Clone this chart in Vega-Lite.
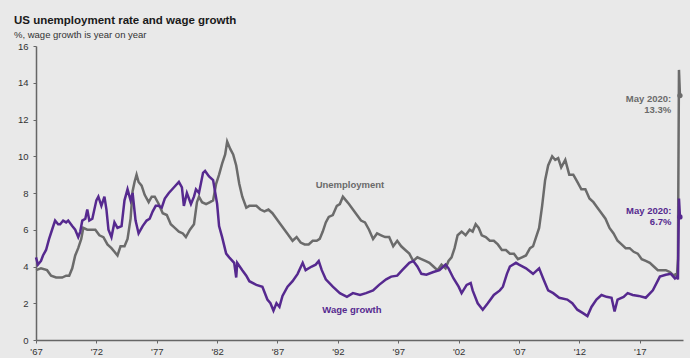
{
  "$schema": "https://vega.github.io/schema/vega-lite/v6.json",
  "width": 647,
  "height": 294,
  "autosize": {"type": "none"},
  "padding": {"left": 36, "top": 46, "right": 7, "bottom": 18},
  "background": "#e9e9e9",
  "title": {
    "text": "US unemployment rate and wage growth",
    "subtitle": "%, wage growth is year on year",
    "anchor": "start",
    "frame": "group",
    "dx": -22,
    "offset": 2,
    "font": "Liberation Sans",
    "fontSize": 11.5,
    "fontWeight": "bold",
    "color": "#1a1a1a",
    "subtitleFont": "Liberation Sans",
    "subtitleFontSize": 9.5,
    "subtitleColor": "#333333",
    "subtitlePadding": 3
  },
  "config": {
    "view": {"stroke": null},
    "axis": {
      "grid": false,
      "domainColor": "#666666",
      "domainWidth": 1.5,
      "tickColor": "#666666",
      "tickSize": 3,
      "labelFont": "Liberation Sans",
      "labelFontSize": 9.5,
      "labelColor": "#333333",
      "title": null
    }
  },
  "datasets": {
    "main": [
      {"d":"1967-01-01","s":"Unemployment","v":3.8},{"d":"1967-06-01","s":"Unemployment","v":3.9},{"d":"1967-12-01","s":"Unemployment","v":3.8},{"d":"1968-04-01","s":"Unemployment","v":3.5},{"d":"1968-09-01","s":"Unemployment","v":3.4},{"d":"1969-03-01","s":"Unemployment","v":3.4},{"d":"1969-07-01","s":"Unemployment","v":3.5},{"d":"1969-10-01","s":"Unemployment","v":3.5},{"d":"1970-01-01","s":"Unemployment","v":3.9},{"d":"1970-04-01","s":"Unemployment","v":4.6},{"d":"1970-07-01","s":"Unemployment","v":5.0},{"d":"1970-10-01","s":"Unemployment","v":5.5},{"d":"1970-12-01","s":"Unemployment","v":6.1},{"d":"1971-04-01","s":"Unemployment","v":6.0},{"d":"1971-08-01","s":"Unemployment","v":6.0},{"d":"1971-12-01","s":"Unemployment","v":6.0},{"d":"1972-04-01","s":"Unemployment","v":5.7},{"d":"1972-08-01","s":"Unemployment","v":5.6},{"d":"1972-12-01","s":"Unemployment","v":5.2},{"d":"1973-04-01","s":"Unemployment","v":5.0},{"d":"1973-07-01","s":"Unemployment","v":4.8},{"d":"1973-10-01","s":"Unemployment","v":4.6},{"d":"1974-01-01","s":"Unemployment","v":5.1},{"d":"1974-05-01","s":"Unemployment","v":5.1},{"d":"1974-08-01","s":"Unemployment","v":5.5},{"d":"1974-11-01","s":"Unemployment","v":6.6},{"d":"1975-01-01","s":"Unemployment","v":8.1},{"d":"1975-03-01","s":"Unemployment","v":8.6},{"d":"1975-05-01","s":"Unemployment","v":9.0},{"d":"1975-07-01","s":"Unemployment","v":8.6},{"d":"1975-10-01","s":"Unemployment","v":8.4},{"d":"1976-01-01","s":"Unemployment","v":7.9},{"d":"1976-05-01","s":"Unemployment","v":7.5},{"d":"1976-08-01","s":"Unemployment","v":7.8},{"d":"1976-11-01","s":"Unemployment","v":7.8},{"d":"1977-03-01","s":"Unemployment","v":7.4},{"d":"1977-07-01","s":"Unemployment","v":6.9},{"d":"1977-11-01","s":"Unemployment","v":6.8},{"d":"1978-03-01","s":"Unemployment","v":6.3},{"d":"1978-07-01","s":"Unemployment","v":6.1},{"d":"1978-11-01","s":"Unemployment","v":5.9},{"d":"1979-03-01","s":"Unemployment","v":5.8},{"d":"1979-06-01","s":"Unemployment","v":5.6},{"d":"1979-10-01","s":"Unemployment","v":6.0},{"d":"1980-02-01","s":"Unemployment","v":6.3},{"d":"1980-05-01","s":"Unemployment","v":7.5},{"d":"1980-07-01","s":"Unemployment","v":7.8},{"d":"1980-10-01","s":"Unemployment","v":7.5},{"d":"1981-02-01","s":"Unemployment","v":7.4},{"d":"1981-06-01","s":"Unemployment","v":7.5},{"d":"1981-09-01","s":"Unemployment","v":7.6},{"d":"1981-12-01","s":"Unemployment","v":8.5},{"d":"1982-03-01","s":"Unemployment","v":9.0},{"d":"1982-06-01","s":"Unemployment","v":9.6},{"d":"1982-09-01","s":"Unemployment","v":10.1},{"d":"1982-11-01","s":"Unemployment","v":10.8},{"d":"1983-02-01","s":"Unemployment","v":10.4},{"d":"1983-05-01","s":"Unemployment","v":10.1},{"d":"1983-08-01","s":"Unemployment","v":9.5},{"d":"1983-11-01","s":"Unemployment","v":8.5},{"d":"1984-02-01","s":"Unemployment","v":7.8},{"d":"1984-06-01","s":"Unemployment","v":7.2},{"d":"1984-09-01","s":"Unemployment","v":7.3},{"d":"1984-12-01","s":"Unemployment","v":7.3},{"d":"1985-04-01","s":"Unemployment","v":7.3},{"d":"1985-08-01","s":"Unemployment","v":7.1},{"d":"1985-12-01","s":"Unemployment","v":7.0},{"d":"1986-04-01","s":"Unemployment","v":7.1},{"d":"1986-08-01","s":"Unemployment","v":6.9},{"d":"1986-12-01","s":"Unemployment","v":6.6},{"d":"1987-04-01","s":"Unemployment","v":6.3},{"d":"1987-08-01","s":"Unemployment","v":6.0},{"d":"1987-12-01","s":"Unemployment","v":5.7},{"d":"1988-04-01","s":"Unemployment","v":5.4},{"d":"1988-08-01","s":"Unemployment","v":5.6},{"d":"1988-12-01","s":"Unemployment","v":5.3},{"d":"1989-04-01","s":"Unemployment","v":5.2},{"d":"1989-08-01","s":"Unemployment","v":5.2},{"d":"1989-12-01","s":"Unemployment","v":5.4},{"d":"1990-04-01","s":"Unemployment","v":5.4},{"d":"1990-07-01","s":"Unemployment","v":5.5},{"d":"1990-10-01","s":"Unemployment","v":5.9},{"d":"1991-01-01","s":"Unemployment","v":6.4},{"d":"1991-04-01","s":"Unemployment","v":6.7},{"d":"1991-08-01","s":"Unemployment","v":6.8},{"d":"1991-12-01","s":"Unemployment","v":7.3},{"d":"1992-03-01","s":"Unemployment","v":7.4},{"d":"1992-06-01","s":"Unemployment","v":7.8},{"d":"1992-09-01","s":"Unemployment","v":7.6},{"d":"1992-12-01","s":"Unemployment","v":7.4},{"d":"1993-04-01","s":"Unemployment","v":7.1},{"d":"1993-08-01","s":"Unemployment","v":6.8},{"d":"1993-12-01","s":"Unemployment","v":6.5},{"d":"1994-04-01","s":"Unemployment","v":6.4},{"d":"1994-08-01","s":"Unemployment","v":6.0},{"d":"1994-12-01","s":"Unemployment","v":5.5},{"d":"1995-04-01","s":"Unemployment","v":5.8},{"d":"1995-08-01","s":"Unemployment","v":5.7},{"d":"1995-12-01","s":"Unemployment","v":5.6},{"d":"1996-04-01","s":"Unemployment","v":5.6},{"d":"1996-08-01","s":"Unemployment","v":5.1},{"d":"1996-12-01","s":"Unemployment","v":5.4},{"d":"1997-04-01","s":"Unemployment","v":5.1},{"d":"1997-08-01","s":"Unemployment","v":4.9},{"d":"1997-12-01","s":"Unemployment","v":4.7},{"d":"1998-04-01","s":"Unemployment","v":4.3},{"d":"1998-08-01","s":"Unemployment","v":4.5},{"d":"1998-12-01","s":"Unemployment","v":4.4},{"d":"1999-04-01","s":"Unemployment","v":4.3},{"d":"1999-08-01","s":"Unemployment","v":4.2},{"d":"1999-12-01","s":"Unemployment","v":4.0},{"d":"2000-04-01","s":"Unemployment","v":3.8},{"d":"2000-08-01","s":"Unemployment","v":4.1},{"d":"2000-12-01","s":"Unemployment","v":3.9},{"d":"2001-03-01","s":"Unemployment","v":4.3},{"d":"2001-06-01","s":"Unemployment","v":4.5},{"d":"2001-09-01","s":"Unemployment","v":5.0},{"d":"2001-12-01","s":"Unemployment","v":5.7},{"d":"2002-04-01","s":"Unemployment","v":5.9},{"d":"2002-08-01","s":"Unemployment","v":5.7},{"d":"2002-12-01","s":"Unemployment","v":6.0},{"d":"2003-03-01","s":"Unemployment","v":5.9},{"d":"2003-06-01","s":"Unemployment","v":6.3},{"d":"2003-09-01","s":"Unemployment","v":6.1},{"d":"2003-12-01","s":"Unemployment","v":5.7},{"d":"2004-04-01","s":"Unemployment","v":5.6},{"d":"2004-08-01","s":"Unemployment","v":5.4},{"d":"2004-12-01","s":"Unemployment","v":5.4},{"d":"2005-04-01","s":"Unemployment","v":5.2},{"d":"2005-08-01","s":"Unemployment","v":4.9},{"d":"2005-12-01","s":"Unemployment","v":4.9},{"d":"2006-04-01","s":"Unemployment","v":4.7},{"d":"2006-08-01","s":"Unemployment","v":4.7},{"d":"2006-12-01","s":"Unemployment","v":4.4},{"d":"2007-04-01","s":"Unemployment","v":4.5},{"d":"2007-08-01","s":"Unemployment","v":4.6},{"d":"2007-12-01","s":"Unemployment","v":5.0},{"d":"2008-03-01","s":"Unemployment","v":5.1},{"d":"2008-06-01","s":"Unemployment","v":5.6},{"d":"2008-09-01","s":"Unemployment","v":6.1},{"d":"2008-12-01","s":"Unemployment","v":7.3},{"d":"2009-03-01","s":"Unemployment","v":8.7},{"d":"2009-06-01","s":"Unemployment","v":9.5},{"d":"2009-10-01","s":"Unemployment","v":10.0},{"d":"2010-01-01","s":"Unemployment","v":9.8},{"d":"2010-04-01","s":"Unemployment","v":9.9},{"d":"2010-07-01","s":"Unemployment","v":9.4},{"d":"2010-11-01","s":"Unemployment","v":9.8},{"d":"2011-03-01","s":"Unemployment","v":9.0},{"d":"2011-07-01","s":"Unemployment","v":9.0},{"d":"2011-11-01","s":"Unemployment","v":8.6},{"d":"2012-03-01","s":"Unemployment","v":8.2},{"d":"2012-07-01","s":"Unemployment","v":8.2},{"d":"2012-11-01","s":"Unemployment","v":7.7},{"d":"2013-03-01","s":"Unemployment","v":7.5},{"d":"2013-07-01","s":"Unemployment","v":7.2},{"d":"2013-11-01","s":"Unemployment","v":6.9},{"d":"2014-03-01","s":"Unemployment","v":6.6},{"d":"2014-07-01","s":"Unemployment","v":6.1},{"d":"2014-11-01","s":"Unemployment","v":5.8},{"d":"2015-03-01","s":"Unemployment","v":5.4},{"d":"2015-07-01","s":"Unemployment","v":5.2},{"d":"2015-11-01","s":"Unemployment","v":5.0},{"d":"2016-03-01","s":"Unemployment","v":5.0},{"d":"2016-07-01","s":"Unemployment","v":4.8},{"d":"2016-11-01","s":"Unemployment","v":4.7},{"d":"2017-03-01","s":"Unemployment","v":4.4},{"d":"2017-07-01","s":"Unemployment","v":4.3},{"d":"2017-11-01","s":"Unemployment","v":4.2},{"d":"2018-03-01","s":"Unemployment","v":4.0},{"d":"2018-07-01","s":"Unemployment","v":3.8},{"d":"2018-11-01","s":"Unemployment","v":3.8},{"d":"2019-03-01","s":"Unemployment","v":3.8},{"d":"2019-07-01","s":"Unemployment","v":3.7},{"d":"2019-11-01","s":"Unemployment","v":3.5},{"d":"2020-01-01","s":"Unemployment","v":3.6},{"d":"2020-02-01","s":"Unemployment","v":3.5},{"d":"2020-03-01","s":"Unemployment","v":4.4},{"d":"2020-04-01","s":"Unemployment","v":14.7},{"d":"2020-05-01","s":"Unemployment","v":13.3},
      {"d":"1967-01-01","s":"Wage growth","v":4.5},{"d":"1967-03-01","s":"Wage growth","v":4.1},{"d":"1967-06-01","s":"Wage growth","v":4.3},{"d":"1967-08-01","s":"Wage growth","v":4.6},{"d":"1967-11-01","s":"Wage growth","v":4.9},{"d":"1968-02-01","s":"Wage growth","v":5.5},{"d":"1968-05-01","s":"Wage growth","v":6.0},{"d":"1968-08-01","s":"Wage growth","v":6.5},{"d":"1968-11-01","s":"Wage growth","v":6.3},{"d":"1969-01-01","s":"Wage growth","v":6.3},{"d":"1969-04-01","s":"Wage growth","v":6.5},{"d":"1969-07-01","s":"Wage growth","v":6.4},{"d":"1969-09-01","s":"Wage growth","v":6.5},{"d":"1970-01-01","s":"Wage growth","v":6.2},{"d":"1970-04-01","s":"Wage growth","v":6.0},{"d":"1970-07-01","s":"Wage growth","v":5.6},{"d":"1970-09-01","s":"Wage growth","v":5.9},{"d":"1970-11-01","s":"Wage growth","v":6.5},{"d":"1971-02-01","s":"Wage growth","v":6.6},{"d":"1971-04-01","s":"Wage growth","v":7.1},{"d":"1971-06-01","s":"Wage growth","v":6.5},{"d":"1971-09-01","s":"Wage growth","v":6.6},{"d":"1972-01-01","s":"Wage growth","v":7.6},{"d":"1972-03-01","s":"Wage growth","v":7.8},{"d":"1972-06-01","s":"Wage growth","v":7.3},{"d":"1972-09-01","s":"Wage growth","v":7.8},{"d":"1972-11-01","s":"Wage growth","v":7.1},{"d":"1973-01-01","s":"Wage growth","v":6.0},{"d":"1973-04-01","s":"Wage growth","v":5.6},{"d":"1973-07-01","s":"Wage growth","v":6.4},{"d":"1973-10-01","s":"Wage growth","v":6.1},{"d":"1974-02-01","s":"Wage growth","v":6.2},{"d":"1974-05-01","s":"Wage growth","v":7.6},{"d":"1974-08-01","s":"Wage growth","v":8.2},{"d":"1974-11-01","s":"Wage growth","v":7.6},{"d":"1975-01-01","s":"Wage growth","v":8.0},{"d":"1975-04-01","s":"Wage growth","v":6.5},{"d":"1975-07-01","s":"Wage growth","v":5.8},{"d":"1975-11-01","s":"Wage growth","v":6.2},{"d":"1976-03-01","s":"Wage growth","v":6.5},{"d":"1976-06-01","s":"Wage growth","v":6.6},{"d":"1976-09-01","s":"Wage growth","v":7.0},{"d":"1976-12-01","s":"Wage growth","v":7.3},{"d":"1977-03-01","s":"Wage growth","v":7.3},{"d":"1977-06-01","s":"Wage growth","v":7.2},{"d":"1977-09-01","s":"Wage growth","v":7.7},{"d":"1978-01-01","s":"Wage growth","v":8.0},{"d":"1978-06-01","s":"Wage growth","v":8.3},{"d":"1978-11-01","s":"Wage growth","v":8.6},{"d":"1979-02-01","s":"Wage growth","v":8.3},{"d":"1979-04-01","s":"Wage growth","v":7.3},{"d":"1979-07-01","s":"Wage growth","v":8.0},{"d":"1979-11-01","s":"Wage growth","v":7.4},{"d":"1980-02-01","s":"Wage growth","v":7.8},{"d":"1980-04-01","s":"Wage growth","v":8.2},{"d":"1980-07-01","s":"Wage growth","v":8.0},{"d":"1980-11-01","s":"Wage growth","v":9.1},{"d":"1981-01-01","s":"Wage growth","v":9.2},{"d":"1981-05-01","s":"Wage growth","v":8.9},{"d":"1981-09-01","s":"Wage growth","v":8.7},{"d":"1982-01-01","s":"Wage growth","v":7.4},{"d":"1982-03-01","s":"Wage growth","v":6.2},{"d":"1982-06-01","s":"Wage growth","v":5.6},{"d":"1982-10-01","s":"Wage growth","v":4.7},{"d":"1983-01-01","s":"Wage growth","v":4.5},{"d":"1983-06-01","s":"Wage growth","v":4.2},{"d":"1983-08-01","s":"Wage growth","v":3.4},{"d":"1983-09-01","s":"Wage growth","v":4.2},{"d":"1984-02-01","s":"Wage growth","v":3.8},{"d":"1984-06-01","s":"Wage growth","v":3.5},{"d":"1984-09-01","s":"Wage growth","v":3.2},{"d":"1985-04-01","s":"Wage growth","v":3.0},{"d":"1985-10-01","s":"Wage growth","v":2.9},{"d":"1986-03-01","s":"Wage growth","v":2.2},{"d":"1986-06-01","s":"Wage growth","v":2.0},{"d":"1986-09-01","s":"Wage growth","v":1.6},{"d":"1986-12-01","s":"Wage growth","v":2.0},{"d":"1987-03-01","s":"Wage growth","v":1.8},{"d":"1987-06-01","s":"Wage growth","v":2.4},{"d":"1987-11-01","s":"Wage growth","v":2.9},{"d":"1988-04-01","s":"Wage growth","v":3.2},{"d":"1988-09-01","s":"Wage growth","v":3.6},{"d":"1989-02-01","s":"Wage growth","v":4.2},{"d":"1989-05-01","s":"Wage growth","v":3.8},{"d":"1989-11-01","s":"Wage growth","v":4.0},{"d":"1990-03-01","s":"Wage growth","v":4.1},{"d":"1990-06-01","s":"Wage growth","v":4.3},{"d":"1990-09-01","s":"Wage growth","v":3.8},{"d":"1991-01-01","s":"Wage growth","v":3.3},{"d":"1991-08-01","s":"Wage growth","v":2.9},{"d":"1992-03-01","s":"Wage growth","v":2.55},{"d":"1992-10-01","s":"Wage growth","v":2.35},{"d":"1993-04-01","s":"Wage growth","v":2.55},{"d":"1993-11-01","s":"Wage growth","v":2.45},{"d":"1994-05-01","s":"Wage growth","v":2.55},{"d":"1994-12-01","s":"Wage growth","v":2.7},{"d":"1995-06-01","s":"Wage growth","v":3.0},{"d":"1996-01-01","s":"Wage growth","v":3.3},{"d":"1996-06-01","s":"Wage growth","v":3.45},{"d":"1996-12-01","s":"Wage growth","v":3.5},{"d":"1997-05-01","s":"Wage growth","v":3.8},{"d":"1997-12-01","s":"Wage growth","v":4.2},{"d":"1998-04-01","s":"Wage growth","v":4.3},{"d":"1998-08-01","s":"Wage growth","v":4.0},{"d":"1998-12-01","s":"Wage growth","v":3.6},{"d":"1999-05-01","s":"Wage growth","v":3.55},{"d":"1999-12-01","s":"Wage growth","v":3.7},{"d":"2000-06-01","s":"Wage growth","v":3.8},{"d":"2000-12-01","s":"Wage growth","v":4.1},{"d":"2001-03-01","s":"Wage growth","v":3.9},{"d":"2001-08-01","s":"Wage growth","v":3.35},{"d":"2002-01-01","s":"Wage growth","v":2.9},{"d":"2002-04-01","s":"Wage growth","v":2.55},{"d":"2002-09-01","s":"Wage growth","v":3.0},{"d":"2003-01-01","s":"Wage growth","v":3.1},{"d":"2003-03-01","s":"Wage growth","v":2.7},{"d":"2003-08-01","s":"Wage growth","v":2.0},{"d":"2004-01-01","s":"Wage growth","v":1.65},{"d":"2004-06-01","s":"Wage growth","v":2.0},{"d":"2004-12-01","s":"Wage growth","v":2.45},{"d":"2005-06-01","s":"Wage growth","v":2.7},{"d":"2005-09-01","s":"Wage growth","v":2.9},{"d":"2006-01-01","s":"Wage growth","v":3.6},{"d":"2006-04-01","s":"Wage growth","v":4.0},{"d":"2006-10-01","s":"Wage growth","v":4.2},{"d":"2007-01-01","s":"Wage growth","v":4.1},{"d":"2007-08-01","s":"Wage growth","v":3.9},{"d":"2008-03-01","s":"Wage growth","v":3.6},{"d":"2008-09-01","s":"Wage growth","v":3.9},{"d":"2009-01-01","s":"Wage growth","v":3.35},{"d":"2009-06-01","s":"Wage growth","v":2.7},{"d":"2009-11-01","s":"Wage growth","v":2.55},{"d":"2010-05-01","s":"Wage growth","v":2.3},{"d":"2011-01-01","s":"Wage growth","v":2.2},{"d":"2011-06-01","s":"Wage growth","v":2.0},{"d":"2011-11-01","s":"Wage growth","v":1.65},{"d":"2012-05-01","s":"Wage growth","v":1.45},{"d":"2012-09-01","s":"Wage growth","v":1.3},{"d":"2013-01-01","s":"Wage growth","v":1.8},{"d":"2013-06-01","s":"Wage growth","v":2.2},{"d":"2013-11-01","s":"Wage growth","v":2.45},{"d":"2014-04-01","s":"Wage growth","v":2.35},{"d":"2014-09-01","s":"Wage growth","v":2.3},{"d":"2014-12-01","s":"Wage growth","v":1.55},{"d":"2015-03-01","s":"Wage growth","v":2.2},{"d":"2015-09-01","s":"Wage growth","v":2.35},{"d":"2016-01-01","s":"Wage growth","v":2.55},{"d":"2016-06-01","s":"Wage growth","v":2.45},{"d":"2016-12-01","s":"Wage growth","v":2.4},{"d":"2017-07-01","s":"Wage growth","v":2.3},{"d":"2018-02-01","s":"Wage growth","v":2.7},{"d":"2018-09-01","s":"Wage growth","v":3.45},{"d":"2019-03-01","s":"Wage growth","v":3.55},{"d":"2019-08-01","s":"Wage growth","v":3.6},{"d":"2019-12-01","s":"Wage growth","v":3.35},{"d":"2020-02-01","s":"Wage growth","v":3.45},{"d":"2020-03-01","s":"Wage growth","v":3.3},{"d":"2020-04-01","s":"Wage growth","v":7.7},{"d":"2020-05-01","s":"Wage growth","v":6.7}
    ],
    "dots": [
      {"d":"2020-05-01","s":"Unemployment","v":13.3},
      {"d":"2020-05-01","s":"Wage growth","v":6.7}
    ],
    "labels": [
      {"d":"1993-01-01","s":"Unemployment","v":8.43,"t":"Unemployment"},
      {"d":"1993-03-01","s":"Wage growth","v":1.63,"t":"Wage growth"}
    ],
    "notes": [
      {"d":"2019-08-10","s":"Unemployment","v":13.1,"t":"May 2020:\n13.3%"},
      {"d":"2019-08-20","s":"Wage growth","v":7.0,"t":"May 2020:\n6.7%"}
    ]
  },
  "encoding": {
    "x": {
      "field": "d",
      "type": "temporal",
      "scale": {"type": "utc", "domain": [{"year": 1967, "month": 1, "date": 1, "utc": true}, {"year": 2020, "month": 8, "date": 1, "utc": true}]},
      "axis": {
        "values": [
          {"year": 1967, "month": 1, "date": 1, "utc": true},
          {"year": 1972, "month": 1, "date": 1, "utc": true},
          {"year": 1977, "month": 1, "date": 1, "utc": true},
          {"year": 1982, "month": 1, "date": 1, "utc": true},
          {"year": 1987, "month": 1, "date": 1, "utc": true},
          {"year": 1992, "month": 1, "date": 1, "utc": true},
          {"year": 1997, "month": 1, "date": 1, "utc": true},
          {"year": 2002, "month": 1, "date": 1, "utc": true},
          {"year": 2007, "month": 1, "date": 1, "utc": true},
          {"year": 2012, "month": 1, "date": 1, "utc": true},
          {"year": 2017, "month": 1, "date": 1, "utc": true}
        ],
        "labelExpr": "\"'\" + utcFormat(datum.value, '%y')",
        "labelPadding": 3,
        "labelFlush": false
      }
    },
    "y": {
      "field": "v",
      "type": "quantitative",
      "scale": {"domain": [0, 16], "nice": false},
      "axis": {"values": [0, 2, 4, 6, 8, 10, 12, 14, 16], "labelPadding": 5}
    },
    "color": {
      "field": "s",
      "type": "nominal",
      "scale": {"domain": ["Unemployment", "Wage growth"], "range": ["#6b6b6b", "#56298f"]},
      "legend": null
    }
  },
  "layer": [
    {
      "data": {"name": "main"},
      "transform": [{"filter": "datum.s === 'Unemployment'"}],
      "mark": {"type": "line", "strokeWidth": 2.5, "interpolate": "linear"}
    },
    {
      "data": {"name": "main"},
      "transform": [{"filter": "datum.s === 'Wage growth'"}],
      "mark": {"type": "line", "strokeWidth": 2.5, "interpolate": "linear"}
    },
    {
      "data": {"name": "dots"},
      "mark": {"type": "point", "filled": true, "size": 28, "opacity": 1}
    },
    {
      "data": {"name": "labels"},
      "mark": {"type": "text", "font": "Liberation Sans", "fontWeight": "bold", "fontSize": 9.5, "align": "center", "baseline": "middle"},
      "encoding": {
        "text": {"field": "t"},
        "color": {"field": "s", "type": "nominal", "scale": {"domain": ["Unemployment", "Wage growth"], "range": ["#7c7c7c", "#5e3193"]}, "legend": null}
      }
    },
    {
      "data": {"name": "notes"},
      "mark": {"type": "text", "font": "Liberation Sans", "fontWeight": "bold", "fontSize": 9.5, "align": "right", "baseline": "middle", "lineBreak": "\n", "lineHeight": 11},
      "encoding": {
        "text": {"field": "t"},
        "color": {"field": "s", "type": "nominal", "scale": {"domain": ["Unemployment", "Wage growth"], "range": ["#7c7c7c", "#5e3193"]}, "legend": null}
      }
    }
  ]
}
